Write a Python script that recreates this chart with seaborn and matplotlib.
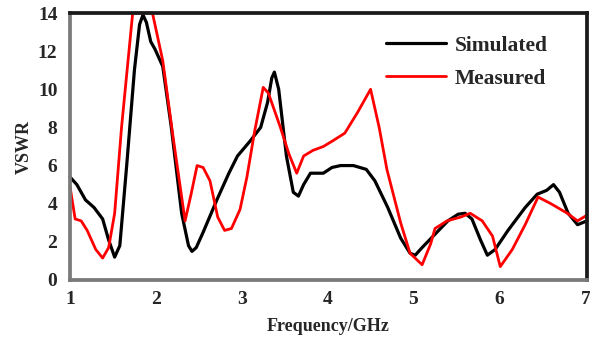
import matplotlib
matplotlib.use("Agg")
import matplotlib.pyplot as plt
import seaborn as sns
import pandas as pd

# simulated VSWR
sim_freq = [1.0, 1.08, 1.18, 1.28, 1.38, 1.45, 1.52, 1.58, 1.66, 1.75, 1.81, 1.85, 1.89, 1.94,
            1.99, 2.08, 2.18, 2.3, 2.38, 2.42, 2.47, 2.55, 2.71, 2.85, 2.95, 3.1, 3.22, 3.3,
            3.35, 3.38, 3.43, 3.52, 3.6, 3.66, 3.72, 3.8, 3.95, 4.05, 4.15, 4.3, 4.45,
            4.55, 4.7, 4.85, 4.96, 5.02, 5.1, 5.25, 5.4, 5.52, 5.6, 5.68, 5.78, 5.86, 5.95,
            6.1, 6.3, 6.44, 6.55, 6.63, 6.7, 6.8, 6.91, 7.02]
sim_vswr = [5.4, 5.0, 4.2, 3.8, 3.2, 2.1, 1.2, 1.8, 6.0, 11.0, 13.4, 13.9, 13.5, 12.5,
            12.1, 11.2, 8.0, 3.5, 1.8, 1.5, 1.7, 2.5, 4.2, 5.6, 6.5, 7.3, 8.0, 9.3,
            10.6, 10.9, 10.0, 6.5, 4.6, 4.4, 5.0, 5.6, 5.6, 5.9, 6.0, 6.0, 5.8,
            5.2, 3.8, 2.2, 1.4, 1.3, 1.7, 2.4, 3.1, 3.45, 3.5, 3.2, 2.1, 1.3, 1.6,
            2.6, 3.8, 4.5, 4.7, 5.0, 4.6, 3.5, 2.9, 3.1]

# measured VSWR
meas_freq = [1.0, 1.06, 1.13, 1.2, 1.3, 1.38, 1.45, 1.52, 1.6, 1.73, 1.85, 1.96,
             2.08, 2.2, 2.34, 2.41, 2.48, 2.55, 2.63, 2.72, 2.8, 2.88, 2.98, 3.06,
             3.15, 3.25, 3.31, 3.45, 3.55, 3.64, 3.72, 3.83, 3.95, 4.06, 4.2, 4.35,
             4.5, 4.6, 4.69, 4.85, 4.96, 5.1, 5.2, 5.25, 5.39, 5.55, 5.66, 5.8,
             5.92, 6.01, 6.15, 6.3, 6.45, 6.6, 6.79, 6.91, 7.02]
meas_vswr = [4.9, 3.2, 3.1, 2.6, 1.6, 1.15, 1.7, 3.5, 8.0, 14.0, 14.0, 14.0,
             11.5, 7.5, 3.1, 4.5, 6.0, 5.9, 5.2, 3.3, 2.6, 2.7, 3.7, 5.4,
             7.8, 10.1, 9.8, 8.0, 6.6, 5.6, 6.5, 6.8, 7.0, 7.3, 7.7, 8.8,
             10.0, 8.0, 5.8, 3.0, 1.4, 0.8, 1.9, 2.7, 3.1, 3.3, 3.5, 3.1,
             2.3, 0.7, 1.6, 2.9, 4.35, 4.0, 3.5, 3.1, 3.4]

sns.set_theme(style="white")
plt.rcParams["font.family"] = ["Liberation Serif", "DejaVu Serif"]
plt.rcParams["font.weight"] = "bold"

fig = plt.figure(figsize=(5.9, 3.4), dpi=100)
ax = fig.add_axes([70 / 590, 1 - 280 / 340, 517 / 590, 267 / 340])

sim = pd.DataFrame({"f": sim_freq, "v": sim_vswr})
meas = pd.DataFrame({"f": meas_freq, "v": meas_vswr})
sns.lineplot(data=sim, x="f", y="v", color="black", lw=2.3, label="Simulated", ax=ax)
sns.lineplot(data=meas, x="f", y="v", color="#ff0000", lw=2.0, label="Measured", ax=ax)
for ln in ax.lines:
    ln.set_clip_on(False)
    ln.set_solid_joinstyle("round")

ax.set_xlim(1, 7.02)
ax.set_ylim(0, 14)
ax.set_xticks([1, 2, 3, 4, 5, 6, 7])
ax.set_yticks([0, 2, 4, 6, 8, 10, 12, 14])
ax.tick_params(axis="both", length=0, labelsize=14)
ax.tick_params(axis="y", pad=9)
ax.tick_params(axis="x", pad=8)
for lab in ax.get_xticklabels() + ax.get_yticklabels():
    lab.set_fontweight("bold")

ax.set_xlabel("Frequency/GHz", fontsize=13, fontweight="bold", labelpad=7)
ax.set_ylabel("VSWR", fontsize=13, fontweight="bold", labelpad=4)

# shadowed frame: grey on left/bottom, black on top/right
for side in ["left", "bottom"]:
    ax.spines[side].set_color("#7a7a7a")
    ax.spines[side].set_linewidth(2.7)
for side in ["top", "right"]:
    ax.spines[side].set_color("#1a1a1a")
    ax.spines[side].set_linewidth(2.7)

ax.legend(loc="upper left", bbox_to_anchor=(0.59, 0.955), frameon=False,
          prop={"family": "Liberation Serif", "weight": "bold", "size": 15.5},
          handlelength=2.8, handletextpad=0.42, labelspacing=0.6, borderpad=0)

fig.savefig("out.png", dpi=100)
